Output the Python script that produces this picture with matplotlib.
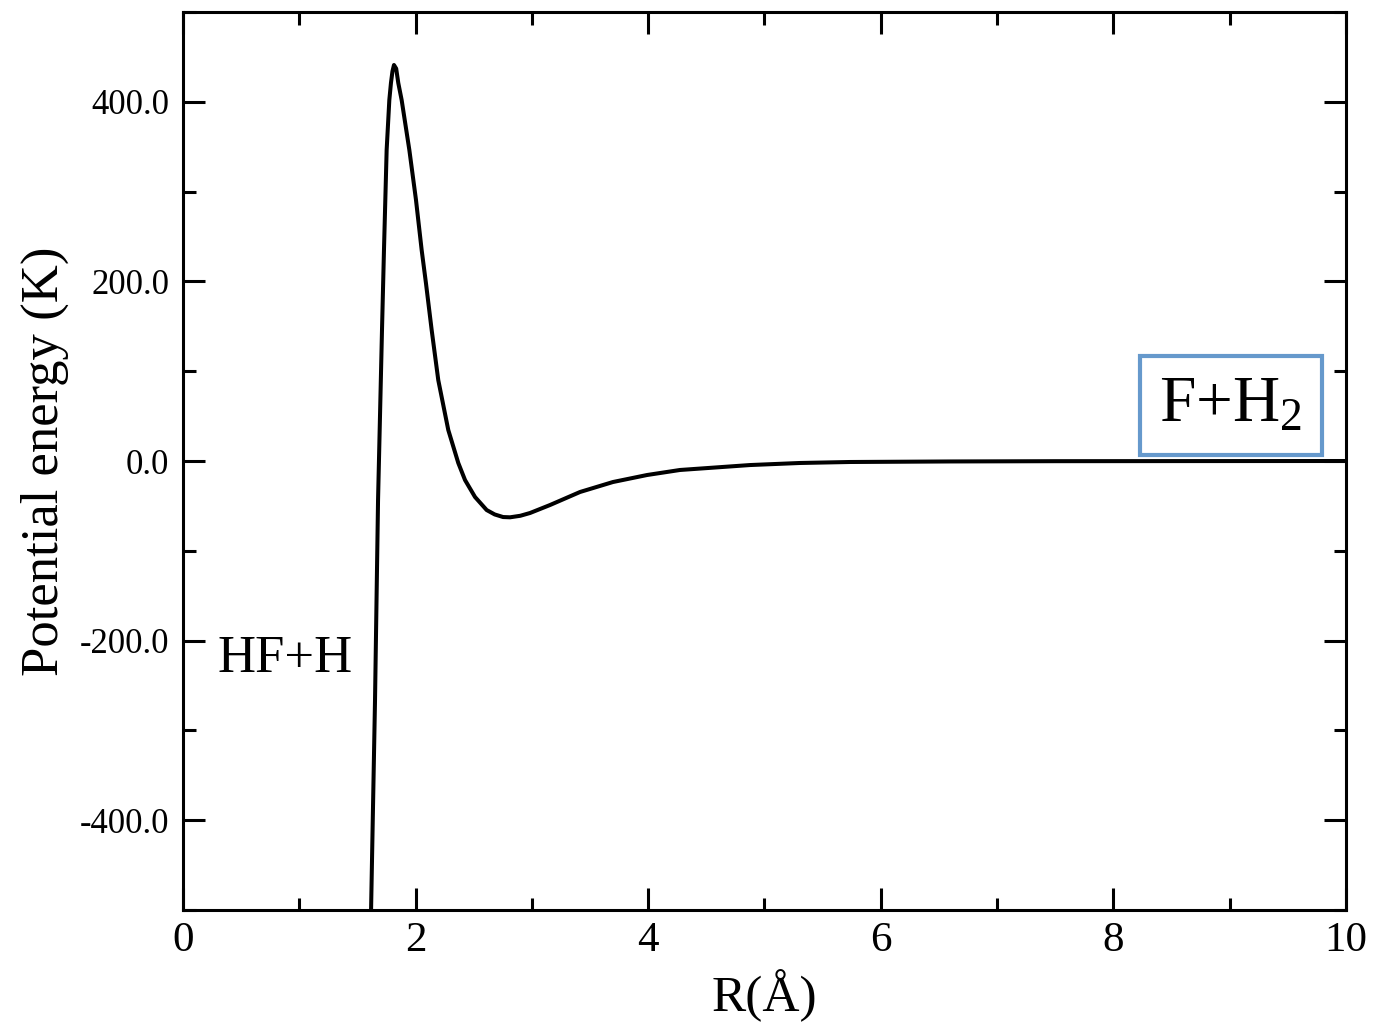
import numpy as np
import matplotlib.pyplot as plt
from matplotlib.ticker import MultipleLocator, FixedLocator, FuncFormatter

# valores: R en Å, energía en K
R = [1.617, 1.651, 1.677, 1.711, 1.728, 1.751, 1.774, 1.788, 1.801, 1.814,
     1.833, 1.851, 1.880, 1.946, 2.003, 2.052, 2.089, 2.138, 2.195, 2.281,
     2.367, 2.425, 2.511, 2.611, 2.68, 2.752, 2.812, 2.90, 2.984, 3.156,
     3.414, 3.697, 3.990, 4.273, 4.875, 5.305, 5.735, 6.6, 7.5, 8.5, 10.0]
V = [-500, -266, -43.5, 146, 235, 346.5, 402, 421, 434, 441,
     437, 421, 402, 346.5, 291, 235, 198, 146, 90, 34.5,
     -2.2, -21.2, -40.1, -54.6, -59.5, -62.4, -62.7, -61, -57.9, -49.0,
     -34.5, -23.4, -15.6, -10.0, -4.5, -2.2, -1.1, -0.5, -0.2, -0.1, 0.0]

plt.rcParams['font.family'] = ['Liberation Serif', 'DejaVu Serif']
plt.rcParams['mathtext.fontset'] = 'custom'
plt.rcParams['mathtext.rm'] = 'Liberation Serif'
plt.rcParams['mathtext.it'] = 'Liberation Serif:italic'

fig = plt.figure(figsize=(13.73, 10.28), dpi=100)
ax = fig.add_axes([0.1333, 0.1148, 0.9803 - 0.1333, 0.9883 - 0.1148])

ax.plot(R, V, color='black', linewidth=2.9, solid_joinstyle='round',
        solid_capstyle='round')

ax.set_xlim(0, 10)
ax.set_ylim(-500, 500)

ax.xaxis.set_major_locator(MultipleLocator(2))
ax.xaxis.set_minor_locator(MultipleLocator(1))
ax.yaxis.set_major_locator(FixedLocator([-400, -200, 0, 200, 400]))
ax.yaxis.set_minor_locator(MultipleLocator(100))
ax.yaxis.set_major_formatter(FuncFormatter(lambda v, p: f"{v:.1f}"))

ax.tick_params(which='both', direction='in', top=True, right=True, width=2.2)
ax.tick_params(which='major', length=16)
ax.tick_params(which='minor', length=9)
ax.tick_params(axis='x', labelsize=31, pad=8)
ax.tick_params(axis='y', labelsize=25, pad=10)
for s in ax.spines.values():
    s.set_linewidth(2.2)

ax.set_xlabel('R(Å)', fontsize=37, labelpad=7)
ax.set_ylabel('Potential energy (K)', fontsize=38, labelpad=8)

ax.text(0.3, -220, 'HF+H', fontsize=38, va='center', ha='left')
ax.text(9.01, 62, r'F+H$_2$', fontsize=47, va='center', ha='center',
        bbox=dict(boxstyle='square,pad=0.3', facecolor='white',
                  edgecolor='#6699cc', linewidth=3))

plt.savefig('out.png', dpi=100)
